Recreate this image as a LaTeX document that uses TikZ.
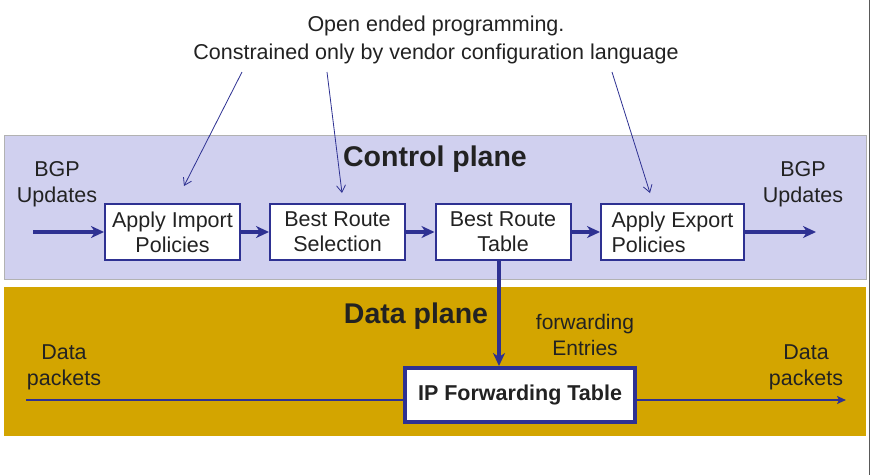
\documentclass[tikz,border=0pt]{standalone}
\usepackage{fontspec}
\setmainfont{Liberation Sans}
\usetikzlibrary{arrows.meta}
\definecolor{cpfill}{HTML}{D0D0EF}
\definecolor{dpfill}{HTML}{D3A500}
\definecolor{bl}{HTML}{2E3192}
\definecolor{txt}{HTML}{222222}
\tikzset{
  box/.style={draw=bl, line width=2pt, fill=white, minimum width=135pt, minimum height=56pt, inner sep=1pt, align=center, font=\fontsize{21.5}{25}\selectfont, text=txt},
  thickarr/.style={draw=bl, line width=3.5pt, -{Stealth[length=13pt,width=12pt,inset=4pt]}},
  thinarr/.style={draw=bl, line width=0.8pt, -{Straight Barb[length=7pt,width=9pt]}},
  lbl/.style={align=center, font=\fontsize{21.5}{26}\selectfont, text=txt},
}
\begin{document}
\begin{tikzpicture}[x=1pt,y=-1pt]
\useasboundingbox (0,0) rectangle (871,475);
\fill[white] (0,0) rectangle (871,475);
% planes
\path[fill=cpfill, draw=gray!60, line width=0.6pt] (4,135) rectangle (866,279);
\path[fill=dpfill] (4,287) rectangle (866,436);
\draw[gray!70!black, line width=0.8pt] (869,0) -- (869,475);
% top text
\node[lbl, font=\fontsize{21.5}{28}\selectfont] (note) at (436,40) {Open ended programming.\\Constrained only by vendor configuration language};
\coordinate (n1) at (242,72);
\coordinate (n2) at (327,72);
\coordinate (n3) at (612,72);
% titles
\node[font=\bfseries\fontsize{28.5}{30}\selectfont, text=txt] (cp) at (435,159) {Control plane};
\node[font=\bfseries\fontsize{28.5}{30}\selectfont, text=txt] (dp) at (416,316) {Data plane};
% boxes
\node[box] (imp) at (172.5,232) {Apply Import\\Policies};
\node[box] (sel) at (337.5,232) {Best Route\\Selection};
\node[box] (tab) at (503,232) {Best Route\\Table};
\node[box, minimum width=143pt, align=left] (exp) at (672.5,232) {Apply Export\\Policies};
\node[draw=bl, line width=4pt, fill=white, minimum width=230pt, minimum height=54pt, font=\bfseries\fontsize{21.5}{23}\selectfont, text=txt] (fwd) at (520,395) {IP Forwarding Table};
% labels
\node[lbl] (bgpl) at (57,184) {BGP\\Updates};
\node[lbl] (bgpr) at (803,184) {BGP\\Updates};
\node[lbl] (dpl) at (64,367) {Data\\packets};
\node[lbl] (dpr) at (806,367) {Data\\packets};
\node[lbl, font=\fontsize{21}{26}\selectfont] (fe) at (585,335) {forwarding\\Entries};
\coordinate (inL) at (33,232);
\coordinate (outR) at (816,232);
\coordinate (pktL) at (26,400);
\coordinate (pktR) at (846,400);
% thin arrows
\draw[thinarr] (n1) -- (184,186);
\draw[thinarr] (n2) -- (342,193);
\draw[thinarr] (n3) -- (650,193);
% thick arrows
\draw[thickarr] (inL) -- (imp.west);
\draw[thickarr] (imp) -- (sel);
\draw[thickarr] (sel) -- (tab);
\draw[thickarr] (tab) -- (exp);
\draw[thickarr] (exp.east) -- (outR);
\draw[draw=bl, line width=3.5pt, -{Stealth[length=13pt,width=12pt,inset=4pt]}] (tab.south -| 499,0) -- (499,366);
% packet line
\draw[bl, line width=2pt] (pktL) -- (pktL -| fwd.west);
\draw[bl, line width=2pt, -{Stealth[length=9pt,width=8pt,inset=2pt]}] (pktR -| fwd.east) -- (pktR);
\end{tikzpicture}
\end{document}
